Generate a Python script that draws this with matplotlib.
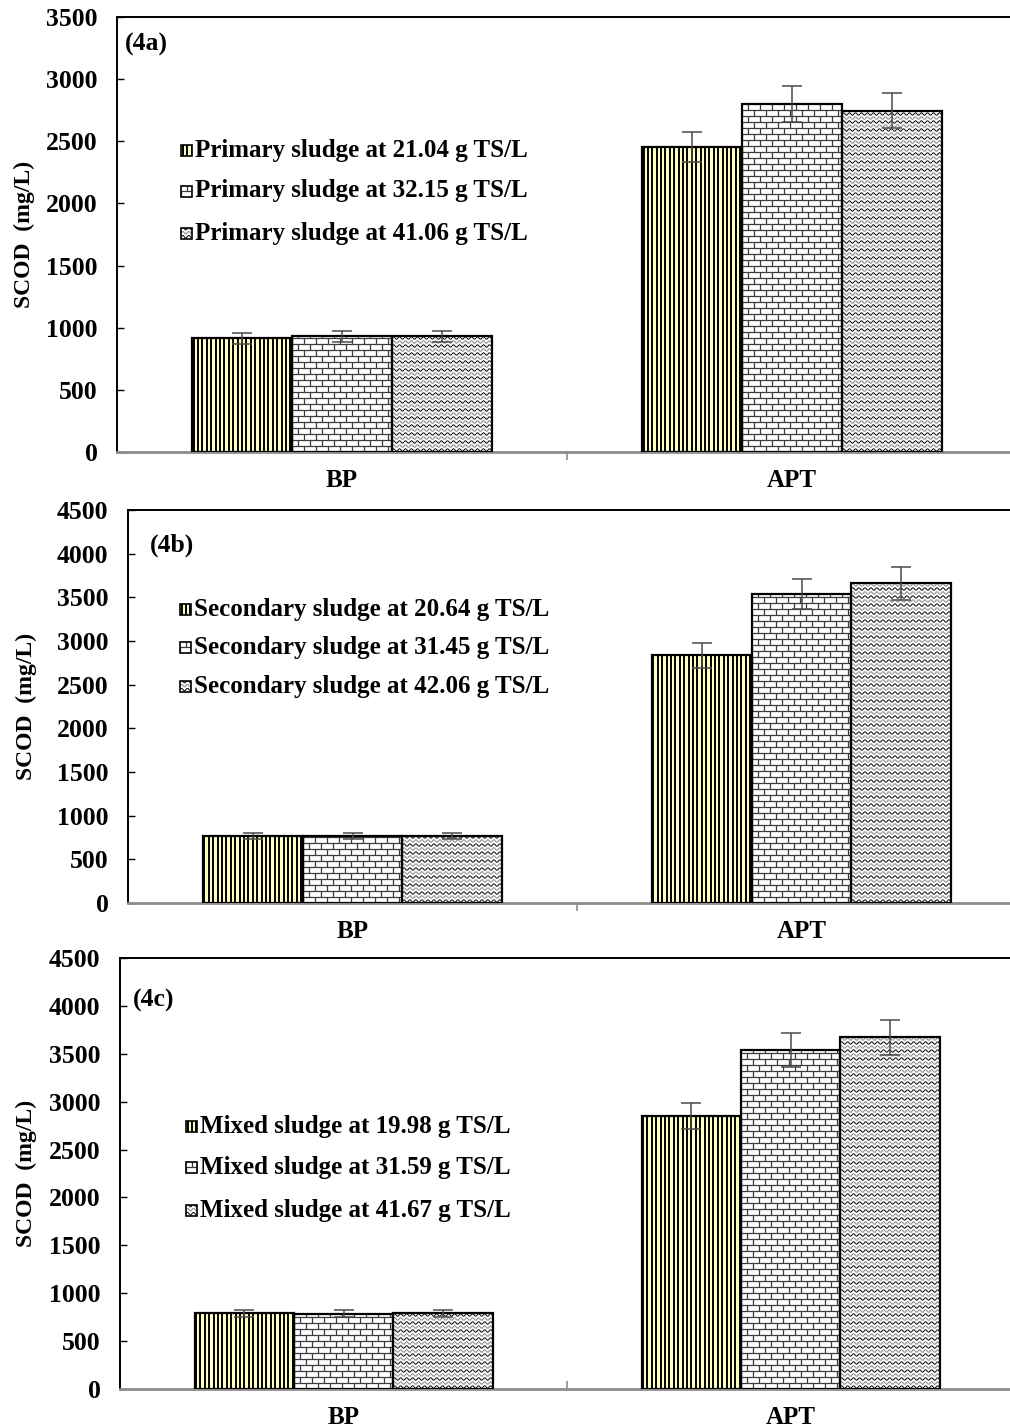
import numpy as np
import matplotlib
matplotlib.use("Agg")
import matplotlib.pyplot as plt
from matplotlib.collections import LineCollection
from matplotlib.patches import Rectangle
from matplotlib.transforms import IdentityTransform

plt.rcParams["font.family"] = ["Liberation Serif", "DejaVu Serif"]
plt.rcParams["font.weight"] = "bold"

categories = ["BP", "APT"]

# SCOD (mg/L), one list per solids level: [BP, APT]
primary_vals = [[915, 2455], [930, 2800], [930, 2745]]
primary_err = [[45, 120], [45, 145], [45, 140]]
primary_labels = ["Primary sludge at 21.04 g TS/L",
                  "Primary sludge at 32.15 g TS/L",
                  "Primary sludge at 41.06 g TS/L"]

secondary_vals = [[770, 2835], [770, 3540], [770, 3660]]
secondary_err = [[35, 145], [35, 175], [35, 185]]
secondary_labels = ["Secondary sludge at 20.64 g TS/L",
                    "Secondary sludge at 31.45 g TS/L",
                    "Secondary sludge at 42.06 g TS/L"]

mixed_vals = [[790, 2850], [785, 3540], [790, 3670]]
mixed_err = [[35, 140], [35, 175], [35, 180]]
mixed_labels = ["Mixed sludge at 19.98 g TS/L",
                "Mixed sludge at 31.59 g TS/L",
                "Mixed sludge at 41.67 g TS/L"]

W, H = 1010, 1427
fig = plt.figure(figsize=(W / 100, H / 100), dpi=100)


def px_axes(left, right, top, bottom):
    return fig.add_axes([left / W, 1 - bottom / H, (right - left) / W, (bottom - top) / H])


def add_lines(ax, segs, clip, color, lw, z):
    lc = LineCollection(segs, colors=color, linewidths=lw,
                        transform=IdentityTransform(), zorder=z)
    ax.add_collection(lc, autolim=False)
    lc.set_clip_path(clip)


def fill_pattern(ax, patch, kind, z=2.5):
    bb = patch.get_window_extent()
    x0, x1, y0, y1 = bb.x0, bb.x1, bb.y0, bb.y1
    if kind == 0:
        # pale yellow with dense black verticals
        xs = np.arange(x0 + 1.5, x1, 4.4)
        add_lines(ax, [[(x, y0), (x, y1)] for x in xs], patch, "black", 1.4, z)
    elif kind == 1:
        # brick
        h, w = 6.0, 12.0
        rows = np.arange(y0, y1, h)
        segs = [[(x0, y), (x1, y)] for y in rows]
        for k, y in enumerate(rows):
            for x in np.arange(x0 + (k % 2) * w / 2, x1, w):
                segs.append([(x, y), (x, y + h)])
        add_lines(ax, segs, patch, "#3c3c3c", 0.9, z)
    else:
        # wavy lines, alternating dark and light
        xs = np.arange(x0, x1 + 0.5, 0.5)
        dark, light = [], []
        for k, yc in enumerate(np.arange(y0 + 2, y1, 4.0)):
            ys = yc + 1.2 * np.sin(2 * np.pi * (xs - x0) / 6.0)
            (dark if k % 2 == 0 else light).append(np.column_stack([xs, ys]))
        add_lines(ax, dark, patch, "black", 0.7, z)
        add_lines(ax, light, patch, "#9a9a9a", 0.9, z)


face = ["#ffffc4", "white", "white"]


def draw_panel(box, vals, errs, labels, ymax, tag, tag_xy, leg_x, leg_y, ylab_x, tick_dir):
    ax = px_axes(*box)
    x = np.arange(len(categories))
    width = 2 / 9
    ax.set_xlim(-0.5, 1.5)
    ax.set_ylim(0, ymax)

    for i in range(3):
        xi = x + (i - 1) * width
        bars = ax.bar(xi, vals[i], width, color=face[i], edgecolor="none", zorder=2)
        for b in bars:
            fill_pattern(ax, b, i)
        ax.bar(xi, vals[i], width, fill=False, edgecolor="black", linewidth=1.6, zorder=3)
        ax.errorbar(xi, vals[i], yerr=errs[i], fmt="none", ecolor="#4a4a4a",
                    elinewidth=1.1, capsize=7, capthick=1.1, zorder=4)

    # legend drawn by hand so the swatches carry the same fills
    pw = box[1] - box[0]
    ph = box[3] - box[2]
    for i, lab in enumerate(labels):
        ax.text(leg_x, leg_y[i], lab, transform=ax.transAxes, fontsize=18,
                fontweight="bold", ha="left", va="center")
        sw_w = 11 / pw
        sw_h = 11 / ph
        sw = Rectangle((leg_x - sw_w - 3 / pw, leg_y[i] - sw_h / 2),
                       sw_w, sw_h, transform=ax.transAxes, facecolor=face[i],
                       edgecolor="none", zorder=5, clip_on=False)
        ax.add_patch(sw)
        fill_pattern(ax, sw, i, z=5.5)
        ax.add_patch(Rectangle(sw.get_xy(), sw_w, sw_h, transform=ax.transAxes,
                               fill=False, edgecolor="black", linewidth=1.2,
                               zorder=6, clip_on=False))

    ax.text(tag_xy[0], tag_xy[1], tag, transform=ax.transAxes, fontsize=18.5,
            fontweight="bold", ha="left", va="center")

    ax.set_yticks(np.arange(0, ymax + 1, 500))
    ax.tick_params(axis="y", direction="in", length=5, width=1, pad=14, labelsize=18.5)
    ax.set_xticks(x)
    ax.set_xticklabels(categories)
    ax.tick_params(axis="x", which="major", length=0, pad=12, labelsize=18)
    ax.set_xticks([0.5], minor=True)
    ax.tick_params(axis="x", which="minor", direction=tick_dir, length=6, width=1.2,
                   color="#8c8c8c")
    for lab in ax.get_xticklabels() + ax.get_yticklabels():
        lab.set_fontweight("bold")

    ax.set_ylabel("SCOD  (mg/L)", fontsize=17, fontweight="bold")
    ax.yaxis.set_label_coords(ylab_x, 0.5)

    for s in ("left", "top", "right"):
        ax.spines[s].set_color("black")
        ax.spines[s].set_linewidth(1.4)
    ax.spines["bottom"].set_color("#8c8c8c")
    ax.spines["bottom"].set_linewidth(2.0)
    return ax


draw_panel((117, 1017, 17, 452), primary_vals, primary_err, primary_labels, 3500,
           "(4a)", (0.009, 0.936), 0.087, [0.694, 0.600, 0.503], -0.091, "out")
draw_panel((128, 1026, 510, 903), secondary_vals, secondary_err, secondary_labels, 4500,
           "(4b)", (0.0245, 0.911), 0.0735, [0.748, 0.651, 0.552], -0.101, "out")
draw_panel((120, 1014, 958, 1389), mixed_vals, mixed_err, mixed_labels, 4500,
           "(4c)", (0.0145, 0.9026), 0.0895, [0.610, 0.513, 0.415], -0.093, "in")

fig.savefig("out.png", dpi=100)
